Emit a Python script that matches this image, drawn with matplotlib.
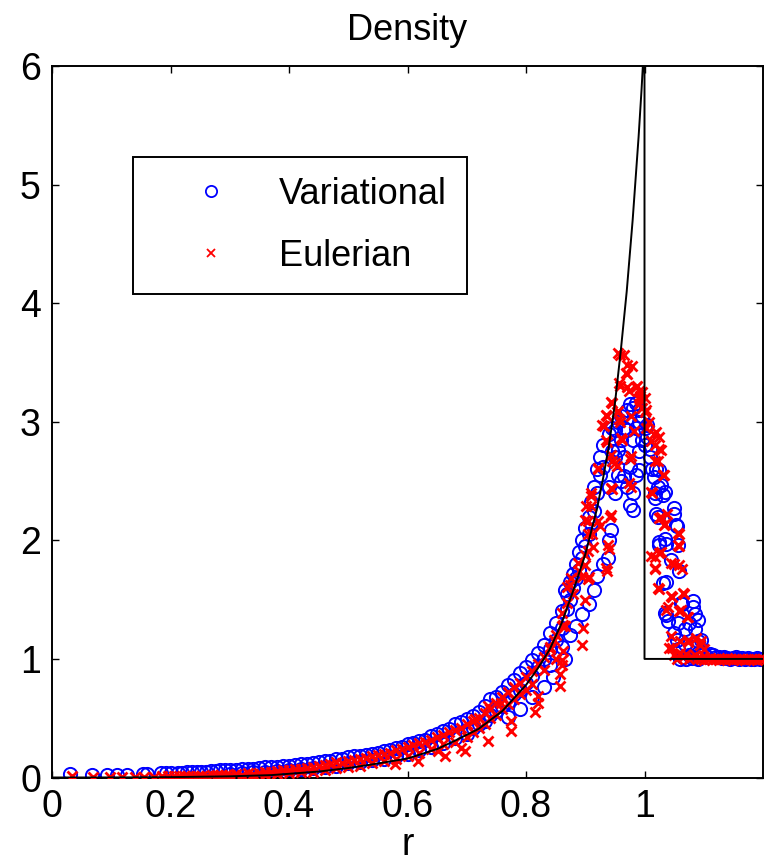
import matplotlib
matplotlib.use("Agg")
import matplotlib.pyplot as plt

# exact solution
exact_r = [0.0, 0.10, 0.20, 0.30, 0.37, 0.45, 0.50, 0.54, 0.60, 0.65, 0.68,
           0.72, 0.76, 0.80, 0.82, 0.84, 0.86, 0.88, 0.90, 0.92, 0.93, 0.94,
           0.95, 0.96, 0.97, 0.975, 0.98, 0.985, 0.99, 0.995, 1.0, 1.0, 1.2]
exact_rho = [0.0, 0.0005, 0.003, 0.01, 0.02, 0.05, 0.08, 0.11, 0.16, 0.24, 0.31,
             0.41, 0.56, 0.78, 0.92, 1.08, 1.30, 1.58, 1.88, 2.27, 2.52, 2.80,
             3.15, 3.60, 4.10, 4.40, 4.70, 5.05, 5.40, 5.80, 6.25, 1.0, 1.0]

# Variational (blue circles)
var_r_inner = [0.030, 0.067, 0.092, 0.109, 0.126, 0.154, 0.161, 0.184, 0.193, 0.201, 0.212,
               0.220, 0.228, 0.236, 0.244, 0.252, 0.260, 0.268, 0.276, 0.284, 0.292]
var_rho_inner = [0.03, 0.02, 0.02, 0.025, 0.025, 0.03, 0.03, 0.035, 0.035, 0.04, 0.04,
                 0.04, 0.045, 0.045, 0.05, 0.05, 0.05, 0.055, 0.055, 0.06, 0.06]

var_r_mid = [0.30, 0.30, 0.31, 0.32, 0.32, 0.33, 0.34, 0.34, 0.35, 0.36, 0.36, 0.37,
             0.38, 0.38, 0.39, 0.40, 0.40, 0.41, 0.42, 0.42, 0.43, 0.44, 0.44, 0.45,
             0.46, 0.46, 0.47, 0.48, 0.48, 0.49, 0.50, 0.50, 0.51, 0.52, 0.52, 0.53,
             0.54, 0.54, 0.55, 0.56, 0.56, 0.57, 0.58, 0.58, 0.59, 0.60, 0.60, 0.61,
             0.62, 0.62, 0.63, 0.64, 0.64, 0.65, 0.66, 0.66, 0.67, 0.68, 0.68, 0.69,
             0.70, 0.70]
var_rho_mid = [0.06, 0.03, 0.065, 0.07, 0.04, 0.07, 0.075, 0.045, 0.08, 0.085, 0.05, 0.09,
               0.09, 0.055, 0.095, 0.10, 0.06, 0.105, 0.11, 0.07, 0.115, 0.12, 0.08, 0.13,
               0.135, 0.09, 0.14, 0.16, 0.10, 0.16, 0.17, 0.12, 0.18, 0.185, 0.13, 0.19,
               0.20, 0.15, 0.21, 0.22, 0.16, 0.235, 0.25, 0.18, 0.26, 0.28, 0.20, 0.29,
               0.31, 0.23, 0.32, 0.35, 0.26, 0.37, 0.39, 0.29, 0.41, 0.45, 0.33, 0.47,
               0.49, 0.37]

var_r_rise = [0.71, 0.71, 0.72, 0.72, 0.73, 0.73, 0.74, 0.74, 0.75, 0.75, 0.76, 0.76,
              0.77, 0.77, 0.77, 0.78, 0.78, 0.79, 0.79, 0.79, 0.80, 0.80,
              0.81, 0.81, 0.81, 0.82, 0.82, 0.83, 0.83, 0.83, 0.84, 0.84, 0.84, 0.845,
              0.85, 0.85, 0.86, 0.86, 0.86, 0.865, 0.865, 0.87, 0.87,
              0.875, 0.875, 0.875, 0.88, 0.88, 0.885, 0.885, 0.885, 0.89, 0.89,
              0.895, 0.895, 0.895, 0.90, 0.90, 0.907, 0.907, 0.907, 0.91, 0.91,
              0.915, 0.915, 0.915, 0.92, 0.92, 0.92, 0.925, 0.925, 0.93, 0.93, 0.93]
var_rho_rise = [0.52, 0.42, 0.55, 0.45, 0.60, 0.48, 0.66, 0.53, 0.68, 0.56, 0.72, 0.60,
                0.78, 0.64, 0.51, 0.82, 0.70, 0.88, 0.74, 0.58, 0.93, 0.80,
                0.99, 0.86, 0.68, 1.05, 0.93, 1.12, 1.00, 0.76, 1.22, 1.08, 0.95, 0.85,
                1.30, 1.16, 1.40, 1.26, 1.10, 1.58, 1.00, 1.55, 1.42,
                1.65, 1.50, 1.20, 1.72, 1.60, 1.80, 1.68, 1.28, 1.90, 1.75,
                2.00, 1.85, 1.38, 2.10, 1.95, 2.20, 2.05, 1.46, 2.32, 2.15,
                2.45, 2.25, 1.58, 2.60, 2.40, 1.70, 2.70, 2.55, 2.80, 2.62, 1.80]

var_r_peak = [0.938, 0.94, 0.94, 0.94, 0.943, 0.945, 0.945, 0.95, 0.95, 0.95,
              0.955, 0.955, 0.955, 0.96, 0.96, 0.96, 0.965, 0.965, 0.965,
              0.97, 0.97, 0.97, 0.975, 0.975, 0.975, 0.98, 0.98, 0.98, 0.98,
              0.985, 0.985, 0.985, 0.99, 0.99, 0.99, 0.99, 0.995, 0.995, 1.0, 1.0]
var_rho_peak = [1.85, 2.90, 2.45, 2.00, 2.09, 2.95, 2.75, 2.93, 2.40, 2.70,
                3.00, 2.76, 2.55, 3.05, 2.85, 2.50, 2.95, 2.54, 2.70,
                3.10, 2.93, 2.45, 3.15, 2.30, 2.62, 3.12, 2.40, 2.85, 2.26,
                3.16, 2.55, 2.95, 3.10, 2.59, 2.75, 3.00, 3.05, 2.85, 2.95, 2.80]

var_r_post = [1.005, 1.005, 1.01, 1.01, 1.013, 1.016, 1.018, 1.018, 1.02, 1.02,
              1.022, 1.022, 1.025, 1.025, 1.025, 1.028, 1.031, 1.031,
              1.034, 1.034, 1.034, 1.036, 1.036, 1.036, 1.04, 1.045,
              1.05, 1.05, 1.05, 1.053, 1.055, 1.055, 1.056, 1.057, 1.057,
              1.059, 1.062, 1.064, 1.068, 1.068, 1.075, 1.082, 1.082,
              1.085, 1.085, 1.09, 1.09, 1.09, 1.096, 1.096]
var_rho_post = [2.87, 2.97, 2.77, 2.70, 2.60, 2.53, 2.40, 2.36, 2.60, 2.22,
                2.20, 2.45, 2.59, 1.96, 1.99, 2.47, 1.64, 2.38,
                2.41, 2.01, 1.39, 1.97, 1.37, 1.65, 1.32, 1.83,
                2.27, 2.22, 1.22, 2.13, 2.12, 1.16, 1.96, 1.08, 1.30,
                1.74, 1.47, 1.46, 1.25, 1.13, 1.30, 1.49, 1.44,
                1.38, 1.25, 1.33, 1.15, 1.05, 1.16, 1.04]

var_r_flat = [1.060, 1.065, 1.070, 1.075, 1.080, 1.085, 1.090, 1.095, 1.100, 1.105,
              1.110, 1.115, 1.120, 1.125, 1.130, 1.135, 1.140, 1.145, 1.150, 1.155,
              1.160, 1.165, 1.170, 1.175, 1.180, 1.185, 1.190, 1.195, 1.200]
var_rho_flat = [1.00, 1.02, 1.00, 1.03, 1.01, 1.02, 1.00, 1.03, 1.04, 1.02,
                1.04, 1.03, 1.02, 1.02, 1.01, 1.02, 1.01, 1.00, 1.01, 1.02,
                1.00, 1.01, 1.00, 1.01, 1.00, 1.00, 1.01, 1.00, 1.00]

# Eulerian (red crosses)
eul_r_inner = [0.034, 0.070, 0.098, 0.118, 0.140, 0.156, 0.172, 0.186, 0.196, 0.206, 0.214,
               0.222, 0.230, 0.238, 0.246, 0.254, 0.262, 0.270, 0.278, 0.286, 0.294]
eul_rho_inner = [0.01, 0.005, 0.005, 0.005, 0.005, 0.005, 0.005, 0.01, 0.01, 0.01, 0.01,
                 0.01, 0.01, 0.01, 0.015, 0.015, 0.015, 0.02, 0.02, 0.02, 0.02]

eul_r_mid = var_r_mid[:] + [0.579, 0.618, 0.652, 0.663, 0.690, 0.697]
eul_rho_mid = [0.02, 0.01, 0.03, 0.025, 0.01, 0.035, 0.03, 0.015, 0.04, 0.045, 0.02, 0.05,
               0.055, 0.03, 0.06, 0.065, 0.035, 0.07, 0.075, 0.045, 0.08, 0.09, 0.05, 0.10,
               0.105, 0.06, 0.11, 0.13, 0.08, 0.125, 0.14, 0.09, 0.15, 0.16, 0.10, 0.165,
               0.18, 0.12, 0.19, 0.20, 0.14, 0.21, 0.23, 0.16, 0.24, 0.26, 0.18, 0.27,
               0.29, 0.21, 0.30, 0.32, 0.24, 0.34, 0.36, 0.28, 0.38, 0.40, 0.30, 0.42,
               0.45, 0.34,
               0.11, 0.14, 0.22, 0.18, 0.25, 0.22]

eul_r_rise = [0.71, 0.71, 0.714, 0.72, 0.72, 0.73, 0.73, 0.736, 0.736, 0.74, 0.74,
              0.75, 0.75, 0.758, 0.76, 0.76, 0.77, 0.77, 0.775, 0.775, 0.78, 0.78,
              0.79, 0.79, 0.80, 0.80, 0.81, 0.81, 0.815, 0.82, 0.82, 0.82,
              0.83, 0.83, 0.84, 0.84, 0.848, 0.85, 0.85, 0.857, 0.857,
              0.86, 0.86, 0.86, 0.86, 0.863, 0.863, 0.866, 0.87, 0.87, 0.874, 0.876,
              0.88, 0.887, 0.89, 0.894, 0.894, 0.896, 0.90, 0.90, 0.90, 0.90,
              0.902, 0.904, 0.905, 0.905, 0.905, 0.906, 0.91, 0.91, 0.91, 0.911, 0.913]
eul_rho_rise = [0.48, 0.38, 0.49, 0.50, 0.42, 0.54, 0.45, 0.60, 0.31, 0.58, 0.50,
                0.63, 0.53, 0.63, 0.68, 0.58, 0.72, 0.62, 0.39, 0.48, 0.76, 0.66,
                0.80, 0.70, 0.85, 0.74, 0.90, 0.79, 0.55, 0.96, 0.63, 0.69,
                1.02, 0.91, 1.10, 1.08, 1.16, 1.20, 1.00, 0.77, 0.87,
                1.28, 0.99, 0.95, 1.39, 1.29, 1.07, 1.28, 1.47, 1.61, 1.62, 1.68,
                1.55, 1.81, 1.74, 1.69, 1.12, 1.26, 1.79, 1.88, 1.50, 2.17,
                2.29, 2.05, 1.91, 1.67, 2.16, 1.69, 2.40, 2.29, 2.37, 2.05, 1.94]

eul_r_peak = [0.921, 0.921, 0.922, 0.925, 0.929, 0.931, 0.935, 0.935, 0.935,
              0.936, 0.936, 0.936, 0.938, 0.94, 0.941, 0.943, 0.943, 0.943, 0.943,
              0.945, 0.945, 0.945, 0.951, 0.953, 0.953, 0.955, 0.955, 0.957, 0.957,
              0.959, 0.959, 0.959, 0.96, 0.962, 0.965, 0.968, 0.971, 0.971, 0.971,
              0.973, 0.974, 0.976, 0.977, 0.977, 0.977, 0.979, 0.982, 0.985, 0.987,
              0.99, 0.99, 0.99, 0.993, 0.993, 0.996, 0.996, 1.0, 1.0]
eul_rho_peak = [2.61, 2.16, 2.60, 2.12, 2.97, 2.96, 3.06, 2.85, 1.77,
                3.05, 2.83, 1.74, 1.96, 1.93, 2.20, 3.17, 2.72, 2.44, 2.21,
                3.16, 2.67, 2.43, 2.65, 3.08, 2.63, 3.58, 3.09, 3.33, 3.02,
                3.56, 3.30, 3.00, 2.86, 2.85, 3.56, 3.41, 3.48, 3.29, 3.40,
                3.26, 2.48, 2.69, 3.05, 2.71, 2.45, 3.47, 2.92, 3.29, 3.30,
                3.26, 3.15, 3.20, 3.18, 3.22, 3.12, 3.25, 3.20, 3.08]

eul_r_post = [1.003, 1.003, 1.007, 1.011, 1.011, 1.011, 1.013, 1.016, 1.017,
              1.018, 1.018, 1.018, 1.018, 1.02, 1.023, 1.023,
              1.025, 1.025, 1.025, 1.025, 1.025, 1.028, 1.028, 1.028,
              1.031, 1.033, 1.033, 1.034, 1.036, 1.038, 1.04, 1.042,
              1.045, 1.045, 1.045, 1.047, 1.047, 1.05, 1.057, 1.057,
              1.059, 1.059, 1.059, 1.059, 1.06, 1.062, 1.064, 1.065, 1.067,
              1.071, 1.073, 1.073, 1.074, 1.087, 1.093, 1.096, 1.10]
eul_rho_post = [3.10, 2.95, 3.00, 2.84, 2.41, 1.87, 2.40, 2.90, 1.77,
                2.67, 1.86, 1.76, 2.80, 2.91, 2.67, 1.60,
                2.87, 2.19, 1.59, 2.77, 1.89, 2.76, 1.90, 2.20,
                2.55, 2.55, 2.13, 2.14, 1.41, 2.22, 1.44, 1.09,
                1.19, 1.53, 1.81, 1.52, 1.09, 1.80, 2.06, 1.96,
                2.05, 1.95, 1.40, 1.79, 1.15, 1.41, 1.76, 1.56, 1.55,
                1.35, 1.35, 1.16, 1.14, 1.18, 1.12, 1.15, 1.08]

eul_r_flat = [1.050, 1.055, 1.060, 1.065, 1.070, 1.075, 1.080, 1.085, 1.090, 1.095,
              1.100, 1.105, 1.110, 1.115, 1.120, 1.125, 1.130, 1.135, 1.140, 1.145,
              1.150, 1.155, 1.160, 1.165, 1.170, 1.175, 1.180, 1.185, 1.190, 1.195, 1.200]
eul_rho_flat = [1.03, 1.00, 1.05, 1.02, 1.04, 1.00, 1.02, 1.03, 1.01, 1.00,
                0.99, 1.00, 1.01, 1.00, 1.00, 0.99, 1.00, 1.00, 1.01, 1.00,
                0.99, 1.00, 1.00, 1.00, 0.99, 1.00, 1.00, 1.00, 0.99, 1.00, 1.00]

var_r = var_r_inner + var_r_mid + var_r_rise + var_r_peak + var_r_post + var_r_flat
var_rho = var_rho_inner + var_rho_mid + var_rho_rise + var_rho_peak + var_rho_post + var_rho_flat
eul_r = eul_r_inner + eul_r_mid + eul_r_rise + eul_r_peak + eul_r_post + eul_r_flat
eul_rho = eul_rho_inner + eul_rho_mid + eul_rho_rise + eul_rho_peak + eul_rho_post + eul_rho_flat

plt.rcParams["font.family"] = ["Liberation Sans", "DejaVu Sans"]

fig = plt.figure(figsize=(7.75, 8.67), dpi=100)
ax = fig.add_axes([52 / 775, (867 - 777.5) / 867, 711 / 775, 711.5 / 867])

ax.plot(var_r, var_rho, "o", mfc="none", mec="blue", ms=9.5, mew=1.4,
        ls="none", label="Variational", zorder=2)
ax.plot(eul_r, eul_rho, "x", color="red", ms=6.5, mew=2.0,
        ls="none", label="Eulerian", zorder=3)
ax.plot(exact_r, exact_rho, "-", color="black", lw=1.4, zorder=4)

ax.set_xlim(0, 1.2)
ax.set_ylim(0, 6)
ax.set_xticks([0, 0.2, 0.4, 0.6, 0.8, 1.0])
ax.set_xticklabels(["0", "0.2", "0.4", "0.6", "0.8", "1"])
ax.set_yticks([0, 1, 2, 3, 4, 5, 6])
ax.tick_params(direction="in", top=True, right=True, length=5, width=1.0,
               labelsize=27, pad=8)
for s in ax.spines.values():
    s.set_linewidth(1.4)

ax.set_title("Density", fontsize=26, pad=19)
ax.set_xlabel("r", fontsize=27, labelpad=2)

leg = ax.legend(loc="upper left", bbox_to_anchor=(0.114, 0.872), borderaxespad=0,
                fontsize=26, frameon=True, fancybox=False, framealpha=1,
                handlelength=3.2, handletextpad=0.3, borderpad=0.55,
                labelspacing=0.75, markerscale=0.85)
leg.get_frame().set_edgecolor("black")
leg.get_frame().set_linewidth(1.4)
for h in leg.legend_handles:
    h.set_markeredgewidth(1.3)

fig.savefig("out.png", dpi=100)
